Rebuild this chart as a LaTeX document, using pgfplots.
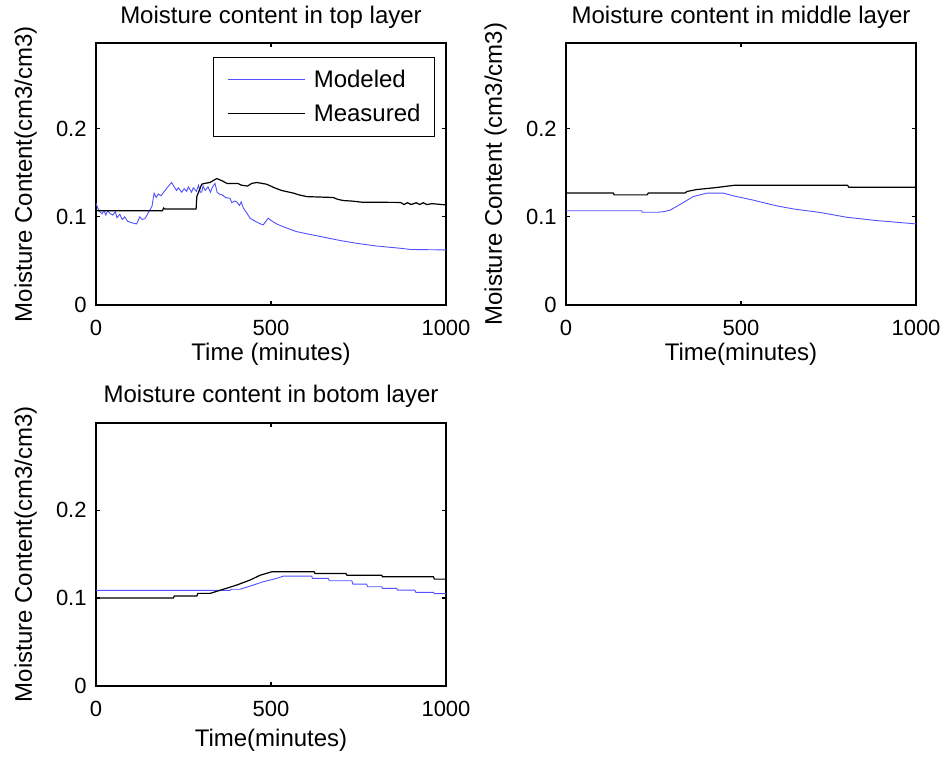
\documentclass[border=0pt]{standalone}
\usepackage{pgfplots}
\pgfplotsset{compat=1.18}
\usepackage{fontspec}
\setmainfont{Liberation Sans}
\newcommand{\labsize}{\fontsize{12}{14}\selectfont}
\newcommand{\ticksize}{\fontsize{11}{13}\selectfont}
\definecolor{modblue}{RGB}{80,80,255}
\pgfplotsset{
  mstyle/.style={
    scale only axis, width=175pt, height=130.85pt,
    xmin=0, xmax=1000, ymin=0, ymax=0.297,
    xtick={0,500,1000}, ytick={0,0.1,0.2},
    tick align=inside, major tick length=2pt,
    tick style={black, line width=0.6pt},
    axis line style={line width=0.9pt},
    /pgf/number format/assume math mode=true,
    /pgf/number format/1000 sep={},
    ticklabel style={font=\ticksize},
    xticklabel style={anchor=base, inner sep=0pt, yshift=-15.5pt},
    yticklabel style={anchor=east, inner sep=0pt, xshift=-4.5pt},
    label style={font=\labsize},
    xlabel style={at={(axis description cs:0.5,-0.2129)}, anchor=base, inner sep=0pt},
    ylabel style={at={(axis description cs:-0.1829,0.5)}, rotate=0, anchor=base, inner sep=0pt},
    every axis title shift=0pt,
    title style={font=\labsize, at={(axis description cs:0.5,1)}, anchor=base, yshift=10pt, inner sep=0pt},
  },
  modeled/.style={modblue, line width=0.45pt},
  measured/.style={black, line width=0.6pt},
}
\begin{document}
\begin{tikzpicture}
\useasboundingbox (0,0) rectangle (474pt,380.5pt);
% ---------- top layer ----------
\begin{axis}[mstyle, at={(48pt,228pt)}, anchor=south west,
  title={Moisture content in top layer},
  xlabel={Time (minutes)}, ylabel={Moisture Content(cm3/cm3)},
  legend cell align=left,
  legend image code/.code={\draw[#1] (0pt,0pt) -- (38.5pt,0pt);},
  legend style={at={(rel axis cs:1,1)}, anchor=north east, xshift=-5.5pt, yshift=-6.7pt,
    draw=black, line width=0.5pt, font=\labsize, inner xsep=7pt, inner ysep=6pt,
    row sep=6.5pt, column sep=4pt,
    nodes={inner sep=0pt, text height=9pt, text depth=1.5pt}},
]
\addplot[modeled] coordinates {
(0,0.1155) (5,0.110) (11,0.106) (17,0.1035) (23,0.107) (28,0.102) (33,0.107)
(40,0.104) (48,0.102) (55,0.106) (60,0.099) (68,0.103) (75,0.097) (82,0.100) (90,0.095) (105,0.093) (116,0.092)
(125,0.100) (132,0.097) (140,0.098) (154,0.108) (160,0.112) (166,0.127) (172,0.122)
(178,0.126) (186,0.124) (202,0.1326) (216,0.139) (222,0.135) (230,0.130) (235,0.133)
(245,0.128) (252,0.132) (259,0.129) (264,0.134) (273,0.128) (278,0.133) (287,0.129)
(293,0.136) (298,0.128) (302,0.128) (306,0.135) (312,0.130) (320,0.134) (327,0.128)
(333,0.134) (340,0.138) (346,0.128) (352,0.126) (360,0.125) (370,0.122) (383,0.121)
(388,0.116) (396,0.118) (402,0.117) (410,0.113) (415,0.117) (421,0.110) (430,0.105)
(440,0.0985) (455,0.095) (470,0.092) (478,0.091) (492,0.0985) (500,0.096) (516,0.092)
(540,0.088) (573,0.0833) (600,0.081) (650,0.077) (700,0.073) (745,0.070) (800,0.067)
(869,0.0644) (900,0.063) (1000,0.0625)
};
\addlegendentry{Modeled}
\addplot[measured] coordinates {
(0,0.107) (190,0.107) (193,0.110) (197,0.109) (286,0.109) (288,0.123) (295,0.130)
(302,0.137) (310,0.138) (325,0.139) (345,0.1435) (360,0.141) (374,0.138) (405,0.138)
(415,0.136) (433,0.135) (445,0.138) (459,0.139) (475,0.138) (488,0.137) (510,0.133)
(530,0.130) (564,0.127) (580,0.125) (602,0.123) (678,0.122) (690,0.120) (707,0.1185)
(730,0.118) (759,0.1167) (870,0.1164) (880,0.114) (890,0.116) (900,0.114) (915,0.116)
(925,0.114) (935,0.116) (945,0.114) (960,0.115) (1000,0.1136)
};
\addlegendentry{Measured}
\end{axis}
% ---------- middle layer ----------
\begin{axis}[mstyle, at={(283pt,228pt)}, anchor=south west,
  title={Moisture content in middle layer},
  xlabel={Time(minutes)}, ylabel={Moisture Content (cm3/cm3)}]
\addplot[modeled] coordinates {
(0,0.107) (216,0.107) (218,0.1053) (264,0.1053) (280,0.106) (297,0.1076) (330,0.115)
(364,0.1231) (402,0.1269) (450,0.127) (478,0.1239) (535,0.119) (602,0.1125)
(650,0.109) (726,0.105) (802,0.0996) (888,0.0958) (954,0.0936) (1000,0.092)
};
\addplot[measured] coordinates {
(0,0.127) (135,0.127) (138,0.125) (232,0.125) (235,0.127) (340,0.127) (345,0.1288)
(373,0.131) (430,0.1333) (483,0.136) (804,0.136) (808,0.1337) (1000,0.1337)
};
\end{axis}
% ---------- bottom layer ----------
\begin{axis}[mstyle, at={(48pt,37.65pt)}, anchor=south west, height=131.5pt, ymax=0.3,
  xlabel style={at={(axis description cs:0.5,-0.232)}},
  title={Moisture content in botom layer},
  xlabel={Time(minutes)}, ylabel={Moisture Content(cm3/cm3)}]
\addplot[modeled] coordinates {
(0,0.1087) (383,0.1087) (386,0.11) (411,0.11) (440,0.1136) (478,0.1186) (516,0.1224)
(535,0.125) (616,0.125) (619,0.1224) (664,0.1224) (667,0.1197) (731,0.1197)
(734,0.1159) (773,0.1159) (776,0.1129) (816,0.1129) (819,0.111) (859,0.111)
(862,0.109) (911,0.109) (914,0.1064) (964,0.1064) (967,0.105) (1000,0.105)
};
\addplot[measured] coordinates {
(0,0.1) (221,0.1) (224,0.1023) (288,0.1023) (291,0.1053) (326,0.1053) (364,0.11)
(402,0.1148) (440,0.1205) (469,0.126) (502,0.1299) (623,0.1299) (626,0.128)
(714,0.128) (717,0.1261) (816,0.1261) (819,0.1242) (964,0.1242) (967,0.1216)
(1000,0.1216)
};
\end{axis}
\end{tikzpicture}
\end{document}
